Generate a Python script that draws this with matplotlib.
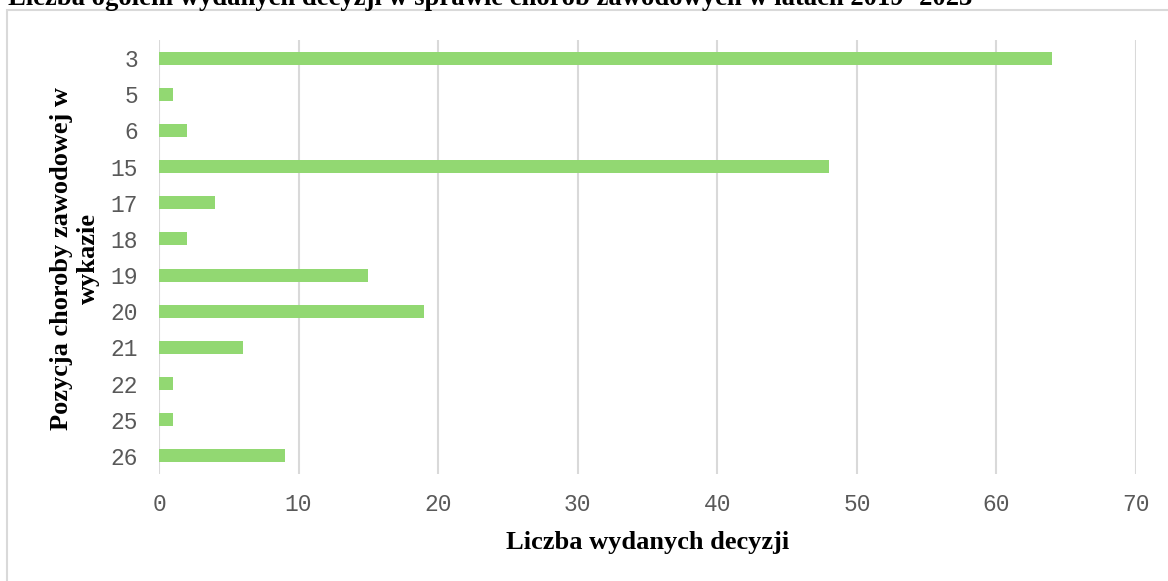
import matplotlib.pyplot as plt
from matplotlib.patches import Rectangle

# data
positions = ["3", "5", "6", "15", "17", "18", "19", "20", "21", "22", "25", "26"]
decisions = [64, 1, 2, 48, 4, 2, 15, 19, 6, 1, 1, 9]
x_ticks = [0, 10, 20, 30, 40, 50, 60, 70]

fig = plt.figure(figsize=(11.68, 5.81), dpi=100)
W, H = 1168, 581

# outer chart frame
fig.patches.append(Rectangle((7 / W, -0.01), 1.0, 1 - 10 / H + 0.01,
                             transform=fig.transFigure, fill=False,
                             edgecolor="#d9d9d9", linewidth=1.5))

ax = fig.add_axes([159 / W, 1 - 474 / H, (1136 - 159) / W, (474 - 40) / H])

ypos = list(range(len(positions)))
ax.barh(ypos, decisions, height=0.36, color="#92d872")
ax.set_ylim(len(positions) - 0.5, -0.5)
ax.set_xlim(0, 70)
ax.set_xticks(x_ticks)
ax.set_yticks(ypos)
ax.set_yticklabels(positions)
ax.grid(axis="x", color="#d9d9d9", linewidth=1.5)
ax.set_axisbelow(True)
for s in ["top", "right", "bottom", "left"]:
    ax.spines[s].set_visible(False)
ax.tick_params(length=0, labelsize=16.5, labelcolor="#595959")
ax.tick_params(axis="y", pad=15)
ax.tick_params(axis="x", pad=14)
for lab in ax.get_xticklabels() + ax.get_yticklabels():
    lab.set_family("Liberation Mono")

fig.text(648 / W, 1 - 543 / H, "Liczba wydanych decyzji", family="Liberation Serif",
         fontweight="bold", fontsize=19, ha="center", va="center")
fig.text(75 / W, 1 - 259 / H, "Pozycja choroby zawodowej w\nwykazie", family="Liberation Serif",
         fontweight="bold", fontsize=19, ha="center", va="center", rotation=90,
         multialignment="center", linespacing=1.25)

# title is clipped at the top edge, as in the reference
fig.text(8 / W, 1 - 5 / H, "Liczba ogółem wydanych decyzji w sprawie chorób zawodowych w latach 2019- 2023",
         family="Liberation Serif", fontweight="bold", fontsize=19.2, va="baseline")

fig.savefig("out.png", dpi=100)
